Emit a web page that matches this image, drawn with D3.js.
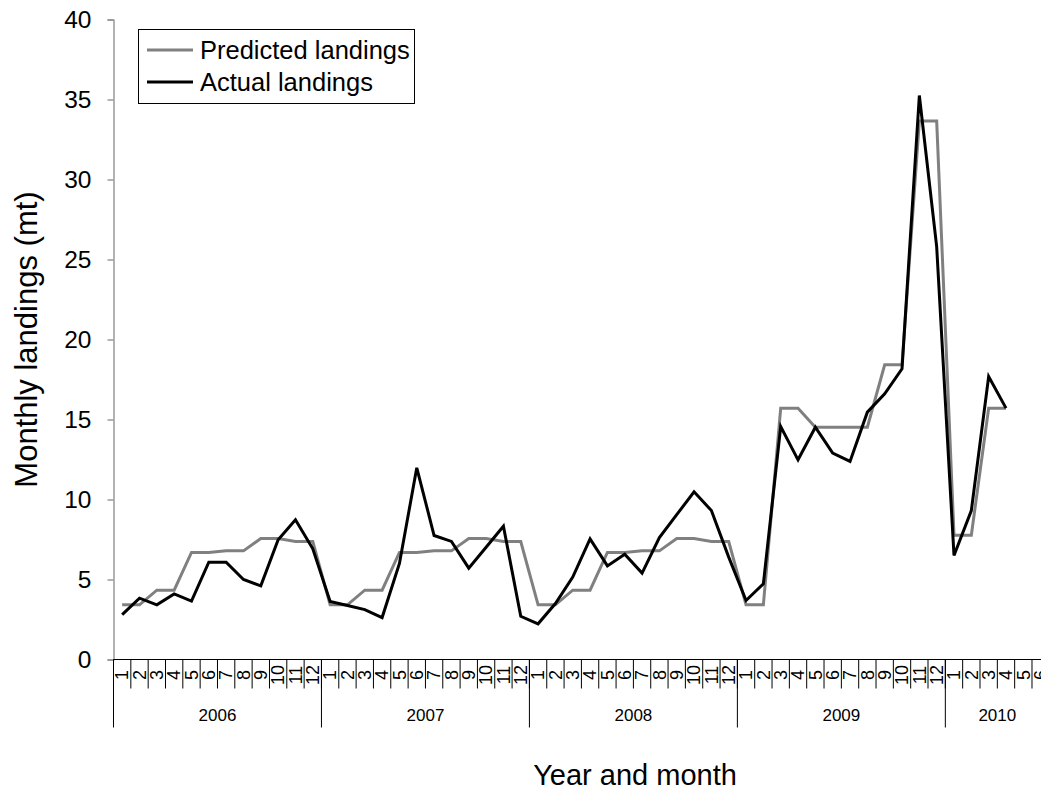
<!DOCTYPE html>
<html>
<head>
<meta charset="utf-8">
<script src="https://cdn.jsdelivr.net/npm/d3@7"></script>
<style>
  html, body { margin: 0; padding: 0; background: #fff; }
  svg { display: block; font-family: "Liberation Sans", Arial, sans-serif; }
</style>
</head>
<body>
<svg id="chart" width="1041" height="792"></svg>
<script>
// Calendar: years and how many months each one shows on the axis
const years = ["2006", "2007", "2008", "2009", "2010"];
const monthsPerYear = [12, 12, 12, 12, 6];

// Monthly landings (mt); null where no value exists
const predicted = [
  3.42, 3.42, 4.33, 4.33, 6.69, 6.69, 6.79, 6.79, 7.56, 7.56, 7.37, 7.37,
  3.42, 3.42, 4.33, 4.33, 6.69, 6.69, 6.79, 6.79, 7.56, 7.56, 7.37, 7.37,
  3.42, 3.42, 4.33, 4.33, 6.69, 6.69, 6.79, 6.79, 7.56, 7.56, 7.37, 7.37,
  3.42, 3.42, 15.71, 15.71, 14.52, 14.52, 14.52, 14.52, 18.42, 18.42, 33.65, 33.65,
  7.77, 7.77, 15.71, 15.71, null, null
];
const actual = [
  2.81, 3.83, 3.42, 4.10, 3.65, 6.08, 6.08, 5.00, 4.60, 7.48, 8.73, 6.92,
  3.62, 3.37, 3.12, 2.62, 6.00, 11.98, 7.75, 7.38, 5.71, 7.02, 8.33, 2.70,
  2.23, 3.50, 5.15, 7.54, 5.85, 6.58, 5.40, 7.62, 9.05, 10.48, 9.31, 6.40,
  3.69, 4.73, 14.56, 12.48, 14.52, 12.90, 12.38, 15.46, 16.60, 18.17, 35.25, 25.80,
  6.50, 9.31, 17.69, 15.71, null, null
];

const series = [
  { name: "Predicted landings", values: predicted, color: "#808080" },
  { name: "Actual landings", values: actual, color: "#000000" }
];
const yTicks = [0, 5, 10, 15, 20, 25, 30, 35, 40];

// Flat list of month slots with their labels
const slots = [];
years.forEach((yr, yi) => {
  for (let m = 1; m <= monthsPerYear[yi]; m++) slots.push({ year: yr, month: m, key: yr + "-" + m });
});

const svg = d3.select("#chart");
const plotLeft = 113.5, plotBottom = 659.5, plotTop = 19.5;
const step = 17.33;

const x = d3.scaleBand()
  .domain(slots.map(d => d.key))
  .range([plotLeft, plotLeft + slots.length * step])
  .paddingInner(0).paddingOuter(0);
const y = d3.scaleLinear().domain([0, 40]).range([plotBottom, plotTop]);

// Y axis
const yAxis = d3.axisLeft(y).tickValues(yTicks).tickSize(6).tickPadding(16);
const gy = svg.append("g").attr("transform", `translate(${plotLeft},0)`).call(yAxis);
gy.select(".domain").attr("stroke", "#808080").attr("stroke-width", 1.2);
gy.selectAll(".tick line").attr("stroke", "#808080").attr("stroke-width", 1.2);
gy.selectAll(".tick text").attr("font-size", 24.5).attr("fill", "#000")
  .attr("font-family", "Liberation Sans, Arial, sans-serif");

// X axis: baseline, month cells and year groups
const gx = svg.append("g");
gx.append("line")
  .attr("x1", plotLeft).attr("x2", x.range()[1])
  .attr("y1", plotBottom).attr("y2", plotBottom)
  .attr("stroke", "#000").attr("stroke-width", 1.2);

gx.selectAll("line.month")
  .data(slots)
  .join("line")
  .attr("class", "month")
  .attr("x1", d => x(d.key) + step).attr("x2", d => x(d.key) + step)
  .attr("y1", plotBottom).attr("y2", plotBottom + 29)
  .attr("stroke", "#000").attr("stroke-width", 1);

gx.selectAll("text.month")
  .data(slots)
  .join("text")
  .attr("class", "month")
  .attr("transform", d => `translate(${x(d.key) + step / 2 + 6.3},${plotBottom + 15.5}) rotate(-90)`)
  .attr("text-anchor", "middle")
  .attr("font-size", 18)
  .text(d => d.month);

// Year dividers and labels
let start = 0;
const yearSpans = years.map((yr, yi) => {
  const s = { year: yr, from: x(slots[start].key), to: x(slots[start].key) + monthsPerYear[yi] * step };
  start += monthsPerYear[yi];
  return s;
});
gx.selectAll("line.year")
  .data(yearSpans)
  .join("line")
  .attr("class", "year")
  .attr("x1", d => d.from).attr("x2", d => d.from)
  .attr("y1", plotBottom).attr("y2", plotBottom + 68)
  .attr("stroke", "#000").attr("stroke-width", 1);
gx.selectAll("text.year")
  .data(yearSpans)
  .join("text")
  .attr("class", "year")
  .attr("x", d => (d.from + d.to) / 2)
  .attr("y", plotBottom + 61)
  .attr("text-anchor", "middle")
  .attr("font-size", 17)
  .text(d => d.year);

// Lines
const line = d3.line()
  .defined(d => d != null)
  .x((d, i) => x(slots[i].key) + step / 2)
  .y(d => y(d));
svg.append("g").selectAll("path")
  .data(series)
  .join("path")
  .attr("fill", "none")
  .attr("stroke", d => d.color)
  .attr("stroke-width", 3)
  .attr("stroke-linejoin", "miter")
  .attr("d", d => line(d.values));

// Axis titles
svg.append("text")
  .attr("transform", `translate(37,${(plotTop + plotBottom) / 2}) rotate(-90)`)
  .attr("text-anchor", "middle")
  .attr("font-size", 31)
  .text("Monthly landings (mt)");
svg.append("text")
  .attr("x", 635).attr("y", 785)
  .attr("text-anchor", "middle")
  .attr("font-size", 29)
  .text("Year and month");

// Legend
const lg = svg.append("g");
lg.append("rect")
  .attr("x", 138.5).attr("y", 29.5).attr("width", 276).attr("height", 74)
  .attr("fill", "#fff").attr("stroke", "#000").attr("stroke-width", 1);
lg.selectAll("g.item")
  .data(series)
  .join("g")
  .attr("class", "item")
  .attr("transform", (d, i) => `translate(147,${50 + i * 32})`)
  .each(function (d) {
    const g = d3.select(this);
    g.append("line").attr("x1", 0).attr("x2", 46).attr("y1", 0).attr("y2", 0)
      .attr("stroke", d.color).attr("stroke-width", 3);
    g.append("text").attr("x", 53).attr("y", 0).attr("dy", "0.35em")
      .attr("font-size", 25.5).text(d.name);
  });
</script>
</body>
</html>
